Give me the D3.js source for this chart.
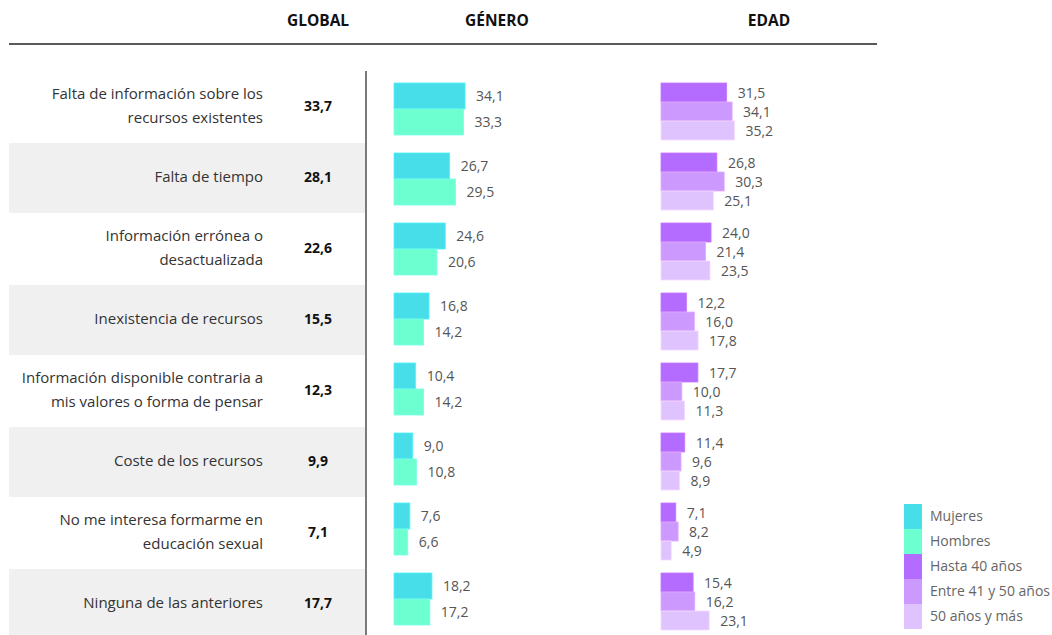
<!DOCTYPE html>
<html>
<head>
<meta charset="utf-8">
<script src="https://cdn.jsdelivr.net/npm/d3@7"></script>
<style>
  body { margin: 0; background: #fff; }
  svg text { font-family: "Open Sans", Lato, sans-serif; }
</style>
</head>
<body>
<div id="chart"></div>
<script>
// categories (label lines)
const categories = [
  ["Falta de información sobre los", "recursos existentes"],
  ["Falta de tiempo"],
  ["Información errónea o", "desactualizada"],
  ["Inexistencia de recursos"],
  ["Información disponible contraria a", "mis valores o forma de pensar"],
  ["Coste de los recursos"],
  ["No me interesa formarme en", "educación sexual"],
  ["Ninguna de las anteriores"]
];
const globalValues = [33.7, 28.1, 22.6, 15.5, 12.3, 9.9, 7.1, 17.7];
const mujeres = [34.1, 26.7, 24.6, 16.8, 10.4, 9.0, 7.6, 18.2];
const hombres = [33.3, 29.5, 20.6, 14.2, 14.2, 10.8, 6.6, 17.2];
const hasta40 = [31.5, 26.8, 24.0, 12.2, 17.7, 11.4, 7.1, 15.4];
const entre41y50 = [34.1, 30.3, 21.4, 16.0, 10.0, 9.6, 8.2, 16.2];
const mas50 = [35.2, 25.1, 23.5, 17.8, 11.3, 8.9, 4.9, 23.1];
const headers = ["GLOBAL", "GÉNERO", "EDAD"];
const legendLabels = ["Mujeres", "Hombres", "Hasta 40 años", "Entre 41 y 50 años", "50 años y más"];
const colors = ["#47dde9", "#6dffd0", "#b46bff", "#cc99ff", "#dfc3ff"];

const width = 1052, height = 635;
const fmt = v => v.toFixed(1).replace(".", ",");

const svg = d3.select("#chart").append("svg")
  .attr("width", width)
  .attr("height", height);

// rows (stripes + labels)
const rowIdx = d3.range(categories.length);
const y = d3.scaleBand()
  .domain(rowIdx)
  .range([72, 72 + 71 * categories.length]);

// bar groups sit on a slightly tighter pitch
const yBar = d3.scaleBand()
  .domain(rowIdx)
  .range([83, 83 + 70 * categories.length]);

// value scale (same for gender and age)
const x = d3.scaleLinear().domain([0, 10]).range([0, 20.85]);
const xGen = 394, xAge = 661;

// gray stripes
svg.selectAll("rect.stripe")
  .data(rowIdx.filter(i => i % 2 === 1))
  .enter().append("rect")
  .attr("x", 9)
  .attr("y", i => y(i))
  .attr("width", 356)
  .attr("height", y.bandwidth() - 1)
  .attr("fill", "#f0f0f0");

// headers
const headerX = [318, 497, 769];
svg.selectAll("text.header")
  .data(headers)
  .enter().append("text")
  .attr("x", (d, i) => headerX[i])
  .attr("y", 26)
  .attr("text-anchor", "middle")
  .style("font-size", "15.5px")
  .style("font-weight", "bold")
  .attr("fill", "#111")
  .text(d => d);

svg.append("line")
  .attr("x1", 9).attr("x2", 877)
  .attr("y1", 44).attr("y2", 44)
  .attr("stroke", "#5a5a5a")
  .attr("stroke-width", 2);

svg.append("line")
  .attr("x1", 366).attr("x2", 366)
  .attr("y1", 71).attr("y2", height)
  .attr("stroke", "#222")
  .attr("stroke-width", 1.2);

// category labels
const lab = svg.selectAll("text.cat")
  .data(categories)
  .enter().append("text")
  .attr("text-anchor", "end")
  .attr("fill", "#333")
  .style("font-size", "15px");
lab.each(function (lines, i) {
  const cy = y(i) + 34;
  const t = d3.select(this);
  lines.forEach((ln, j) => {
    t.append("tspan")
      .attr("x", 263)
      .attr("y", cy + 5 + (j - (lines.length - 1) / 2) * 24)
      .text(ln);
  });
});

// global values
svg.selectAll("text.global")
  .data(globalValues)
  .enter().append("text")
  .attr("x", 318)
  .attr("y", (d, i) => y(i) + 39)
  .attr("text-anchor", "middle")
  .style("font-size", "14px")
  .style("font-weight", "bold")
  .attr("fill", "#111")
  .text(d => fmt(d));

// generic bar group drawer
function drawBars(series, color, x0, top, h) {
  series.forEach((v, i) => {
    svg.append("rect")
      .attr("x", x0)
      .attr("y", yBar(i) + top)
      .attr("width", x(v))
      .attr("height", h)
      .attr("fill", color)
      .attr("stroke", d3.color(color).brighter(0.3))
      .attr("stroke-width", 0.8);
    svg.append("text")
      .attr("x", x0 + x(v) + 11)
      .attr("y", yBar(i) + top + h / 2 + 5)
      .style("font-size", "14px")
      .attr("fill", "#555")
      .text(fmt(v));
  });
}

drawBars(mujeres, colors[0], xGen, 0, 26);
drawBars(hombres, colors[1], xGen, 26, 26);
drawBars(hasta40, colors[2], xAge, 0, 19);
drawBars(entre41y50, colors[3], xAge, 19, 19);
drawBars(mas50, colors[4], xAge, 38, 19);

// legend
const leg = svg.selectAll("g.legend")
  .data(legendLabels)
  .enter().append("g")
  .attr("transform", (d, i) => "translate(904," + (504 + i * 25) + ")");
leg.append("rect")
  .attr("width", 18)
  .attr("height", 25)
  .attr("fill", (d, i) => colors[i]);
leg.append("text")
  .attr("x", 26)
  .attr("y", 17)
  .style("font-size", "14px")
  .attr("fill", "#666")
  .text(d => d);
</script>
</body>
</html>
